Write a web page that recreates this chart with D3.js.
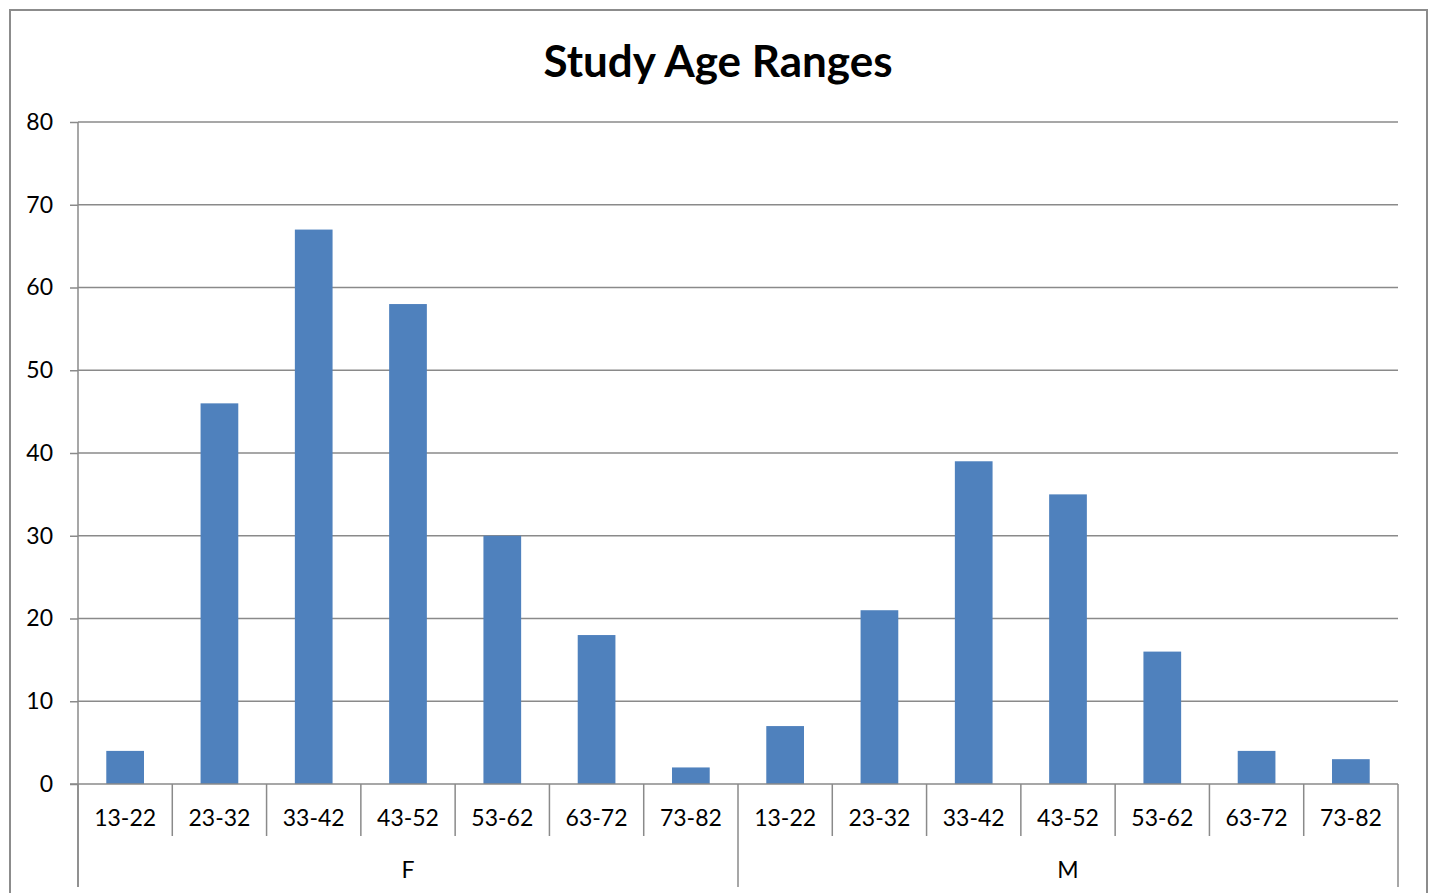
<!DOCTYPE html>
<html><head><meta charset="utf-8">
<script src="https://cdn.jsdelivr.net/npm/d3@7"></script>
<style>html,body{margin:0;padding:0;background:#fff;}svg{display:block;}</style>
</head><body>
<script>
const title = "Study Age Ranges";
const groups = ["F", "M"];
const ageRanges = ["13-22","23-32","33-42","43-52","53-62","63-72","73-82"];
const valuesF = [4, 46, 67, 58, 30, 18, 2];
const valuesM = [7, 21, 39, 35, 16, 4, 3];
const yTicks = [0, 10, 20, 30, 40, 50, 60, 70, 80];

(function () {
const W = 1432, H = 893;
const font = "Lato, 'Open Sans', sans-serif";
const svg = d3.select("body").append("svg").attr("width", W).attr("height", H);

const data = [];
groups.forEach((g, gi) => {
  const vals = gi === 0 ? valuesF : valuesM;
  ageRanges.forEach((a, i) => data.push({key: g + "|" + a, group: g, range: a, value: vals[i]}));
});

const pLeft = 78, pRight = 1398, pTop = 122, pBottom = 784;
const x = d3.scaleBand().domain(data.map(d => d.key)).range([pLeft, pRight]).paddingInner(0.6).paddingOuter(0.3);
const xCat = d3.scaleBand().domain(data.map(d => d.key)).range([pLeft, pRight]);
const y = d3.scaleLinear().domain([0, 80]).range([pBottom, pTop]);

// outer border
svg.append("rect").attr("x", 10).attr("y", 10).attr("width", 1417).attr("height", 900)
  .attr("fill", "none").attr("stroke", "#8c8c8c").attr("stroke-width", 2);

// gridlines
svg.append("g").selectAll("line").data(yTicks.filter(t => t > 0)).join("line")
  .attr("x1", pLeft).attr("x2", pRight).attr("y1", d => y(d)).attr("y2", d => y(d))
  .attr("stroke", "#8a8a8a").attr("stroke-width", 1.5);

// y axis
const yAxis = d3.axisLeft(y).tickValues(yTicks).tickSize(8).tickPadding(17);
const gy = svg.append("g").attr("transform", `translate(${pLeft},0)`).call(yAxis);
gy.select(".domain").remove();
gy.selectAll(".tick line").attr("stroke", "#8a8a8a").attr("stroke-width", 1.5);
gy.selectAll(".tick text").attr("font-family", font).attr("font-size", 23).attr("fill", "#000");
svg.append("line").attr("x1", pLeft).attr("x2", pLeft).attr("y1", pTop).attr("y2", 887)
  .attr("stroke", "#8a8a8a").attr("stroke-width", 1.5);

// bars
svg.append("g").selectAll("rect").data(data).join("rect")
  .attr("x", d => x(d.key)).attr("width", x.bandwidth())
  .attr("y", d => y(d.value)).attr("height", d => y(0) - y(d.value))
  .attr("fill", "#4f81bd");

// x baseline
svg.append("line").attr("x1", pLeft - 8).attr("x2", pRight).attr("y1", pBottom).attr("y2", pBottom)
  .attr("stroke", "#8a8a8a").attr("stroke-width", 1.5);

// x axis categories
const xAxis = d3.axisBottom(xCat).tickSize(0).tickPadding(26).tickFormat(k => k.split("|")[1]);
const gx = svg.append("g").attr("transform", `translate(0,${pBottom})`).call(xAxis);
gx.select(".domain").remove();
gx.selectAll(".tick text").attr("font-family", font).attr("font-size", 23).attr("fill", "#000");

// separators
const seps = data.map(d => xCat(d.key)).concat([pRight]);
svg.append("g").selectAll("line").data(seps).join("line")
  .attr("x1", d => d).attr("x2", d => d).attr("y1", pBottom)
  .attr("y2", (d, i) => (i % ageRanges.length === 0) ? 887 : 836)
  .attr("stroke", "#8a8a8a").attr("stroke-width", 1.5);

// group labels
svg.append("g").selectAll("text").data(groups).join("text")
  .attr("x", (g, gi) => (xCat(g + "|" + ageRanges[0]) + (gi === groups.length - 1 ? pRight : xCat(groups[gi + 1] + "|" + ageRanges[0]))) / 2)
  .attr("y", 878).attr("text-anchor", "middle")
  .attr("font-family", font).attr("font-size", 23).attr("fill", "#000").text(g => g);

// title
svg.append("text").attr("x", 718).attr("y", 77).attr("text-anchor", "middle")
  .attr("font-family", font).attr("font-weight", "bold").attr("font-size", 44).attr("fill", "#000").text(title);
})();
</script>
</body></html>
